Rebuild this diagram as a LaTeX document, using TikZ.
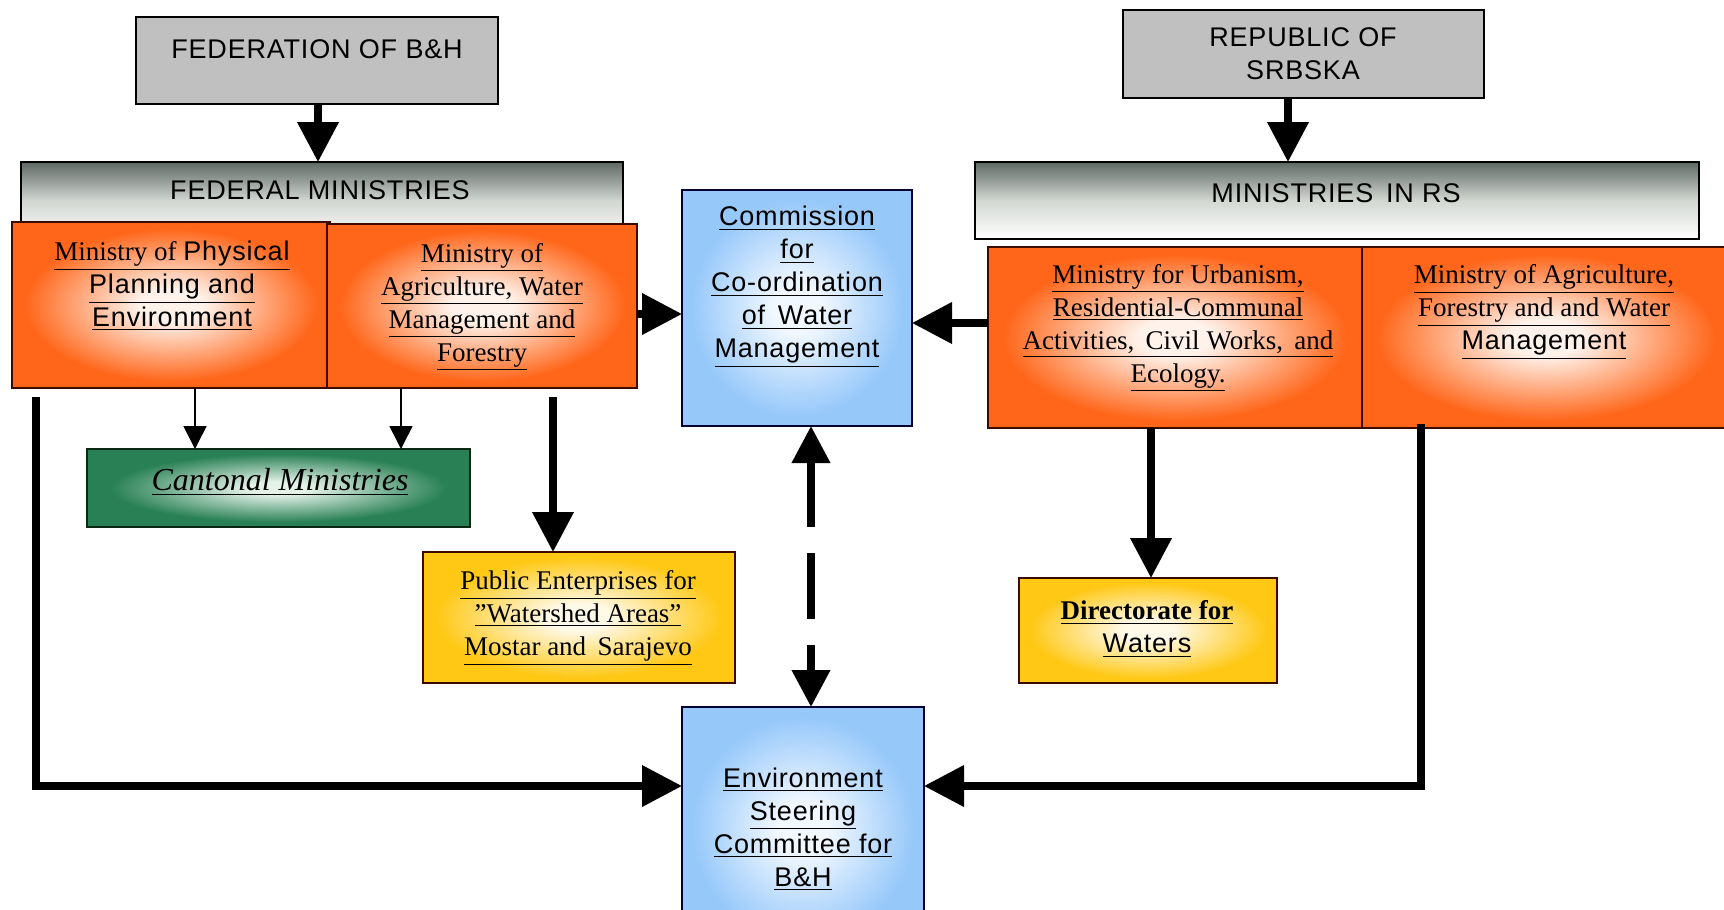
\documentclass[tikz,border=0pt]{standalone}
\usepackage{fontspec}
\setmainfont{Liberation Serif}
\setsansfont{Liberation Sans}[LetterSpace=3]
\usetikzlibrary{arrows.meta,calc}

\definecolor{orgO}{RGB}{255,102,26}
\definecolor{orgI}{RGB}{255,242,234}
\definecolor{bluO}{RGB}{150,200,250}
\definecolor{bluI}{RGB}{242,248,255}
\definecolor{grnO}{RGB}{40,128,84}
\definecolor{grnI}{RGB}{228,242,232}
\definecolor{yelO}{RGB}{255,200,20}
\definecolor{yelI}{RGB}{255,249,232}
\definecolor{grayF}{RGB}{192,192,192}
\definecolor{barTop}{RGB}{95,105,100}
\definecolor{barMid}{RGB}{210,215,210}
\definecolor{brd}{RGB}{60,10,0}
\definecolor{bbrd}{RGB}{0,0,50}
\definecolor{gbrd}{RGB}{10,40,20}

\pgfdeclareradialshading{shOrg}{\pgfpoint{0bp}{0bp}}{color(0bp)=(orgI); color(5bp)=(orgI); color(23bp)=(orgO); color(50bp)=(orgO)}
\pgfdeclareradialshading{shBlu}{\pgfpoint{0bp}{0bp}}{color(0bp)=(bluI); color(5bp)=(bluI); color(23bp)=(bluO); color(50bp)=(bluO)}
\pgfdeclareradialshading{shGrn}{\pgfpoint{0bp}{0bp}}{color(0bp)=(grnI); color(4bp)=(grnI); color(22bp)=(grnO); color(50bp)=(grnO)}
\pgfdeclareradialshading{shYel}{\pgfpoint{0bp}{0bp}}{color(0bp)=(yelI); color(5bp)=(yelI); color(23bp)=(yelO); color(50bp)=(yelO)}

\newcommand{\myul}[1]{\underline{#1}}
\newcommand{\mybox}[6]{\node[#6, minimum width={(#4-#2)*0.5pt}, minimum height={(#5-#3)*0.5pt}] (#1) at ({(#2+#4)/2},{(#3+#5)/2}) {};}

\begin{document}
\begin{tikzpicture}[x=0.5pt,y=-0.5pt,
  box/.style={inner sep=0pt, outer sep=0pt, line width=1.3pt},
  obox/.style={box, draw=brd, shading=shOrg},
  bbox/.style={box, draw=bbrd, shading=shBlu},
  gbox/.style={box, draw=gbrd, shading=shGrn},
  ybox/.style={box, draw=brd, shading=shYel},
  graybox/.style={box, draw=black, fill=grayF},
  barbox/.style={box, draw=black, top color=barTop, bottom color=white, middle color=barMid},
  txt/.style={align=center, inner sep=0pt, font=\fontsize{13.5}{16.5}\selectfont},
  thk/.style={line width=3.6pt, -{Triangle[width=20pt,length=20pt]}},
  thn/.style={line width=0.8pt, -{Triangle[width=11.5pt,length=11.5pt]}},
  dsh/.style={line width=3.6pt, {Triangle[width=18.5pt,length=18.5pt]}-{Triangle[width=18.5pt,length=18.5pt]}, dash pattern=on 33pt off 13pt}
]
\useasboundingbox (0,0) rectangle (1724,910);
\clip (0,0) rectangle (1724,910);
\fill[white] (0,0) rectangle (1724,910);

% boxes
\mybox{fed}{136}{17}{498}{104}{graybox}
\mybox{rs}{1123}{10}{1484}{98}{graybox}
\mybox{fedbar}{21}{162}{623}{240}{barbox}
\mybox{rsbar}{975}{162}{1699}{239}{barbox}
\mybox{phys}{12}{222}{330}{388}{obox}
\mybox{agri}{327}{224}{637}{388}{obox}
\mybox{urb}{988}{247}{1362}{428}{obox}
\mybox{agrirs}{1362}{247}{1730}{428}{obox}
\mybox{comm}{682}{190}{912}{426}{bbox}
\mybox{cant}{87}{449}{470}{527}{gbox}
\mybox{pub}{423}{552}{735}{683}{ybox}
\mybox{dir}{1019}{578}{1277}{683}{ybox}
\mybox{env}{682}{707}{924}{950}{bbox}

% helper coordinates
\coordinate (a1x) at (318,0);
\coordinate (a2x) at (1288,0);
\coordinate (ay) at (0,314);
\coordinate (uy) at (0,323);
\coordinate (t1x) at (195,0);
\coordinate (t2x) at (401,0);
\coordinate (px) at (553,0);
\coordinate (dx) at (811,0);
\coordinate (wx) at (1151,0);
\coordinate (lstart) at (36,397);
\coordinate (ly) at (0,786);
\coordinate (rstart) at (1421,424);

% connectors
\draw[thk] (fed.south -| a1x) -- (fedbar.north -| a1x);
\draw[thk] (rs.south -| a2x) -- (rsbar.north -| a2x);
\draw[thk] (agri.east |- ay) -- (comm.west |- ay);
\draw[thk] (urb.west |- uy) -- (comm.east |- uy);
\draw[thn] (phys.south -| t1x) -- (cant.north -| t1x);
\draw[thn] (agri.south -| t2x) -- (cant.north -| t2x);
\draw[thk] ($(agri.south -| px)+(0,9)$) -- (pub.north -| px);
\draw[dsh] (comm.south -| dx) -- (env.north -| dx);
\draw[thk] (urb.south -| wx) -- (dir.north -| wx);
\draw[thk] (lstart) |- (env.west |- ly);
\draw[thk] (rstart) |- (env.east |- ly);

% texts
\node[txt] (fedT) at (317,49) {\sffamily FEDERATION OF B\&H};
\node[txt] (rsT) at (1303,54) {\sffamily REPUBLIC OF\\\sffamily SRBSKA};
\node[txt] (fedbarT) at (320,190) {\sffamily FEDERAL MINISTRIES};
\node[txt] (rsbarT) at (1336,193) {\sffamily MINISTRIES\, IN RS};
\node[txt] (physT) at (172,286) {\myul{Ministry of {\sffamily Physical}}\\\myul{\sffamily Planning and}\\\myul{\sffamily Environment}};
\node[txt] (agriT) at (482,307) {\myul{Ministry of}\\\myul{Agriculture, Water}\\\myul{Management and}\\\myul{Forestry}};
\node[txt] (commT) at (797,287) {\myul{\sffamily Commission}\\\myul{\sffamily for}\\\myul{\sffamily Co-ordination}\\\myul{\sffamily of\, Water}\\\myul{\sffamily Management}};
\node[txt] (urbT) at (1178,328) {\myul{Ministry for Urbanism,}\\\myul{Residential-Communal}\\\myul{Activities,\, Civil Works,\, and}\\\myul{Ecology.}};
\node[txt] (agrirsT) at (1544,312) {\myul{Ministry of Agriculture,}\\\myul{Forestry and and Water}\\\myul{\sffamily Management}};
\node[txt, font=\fontsize{16}{18}\selectfont\itshape] (cantT) at (280,482) {\myul{Cantonal Ministries}};
\node[txt] (pubT) at (578,618) {\myul{Public Enterprises for}\\\myul{''Watershed Areas''}\\\myul{Mostar and\, Sarajevo}};
\node[txt] (dirT) at (1147,629) {\myul{\bfseries Directorate for}\\\myul{\sffamily Waters}};
\node[txt] (envT) at (803,829) {\myul{\sffamily Environment}\\\myul{\sffamily Steering}\\\myul{\sffamily Committee for}\\\myul{\sffamily B\&H}};
\end{tikzpicture}
\end{document}
